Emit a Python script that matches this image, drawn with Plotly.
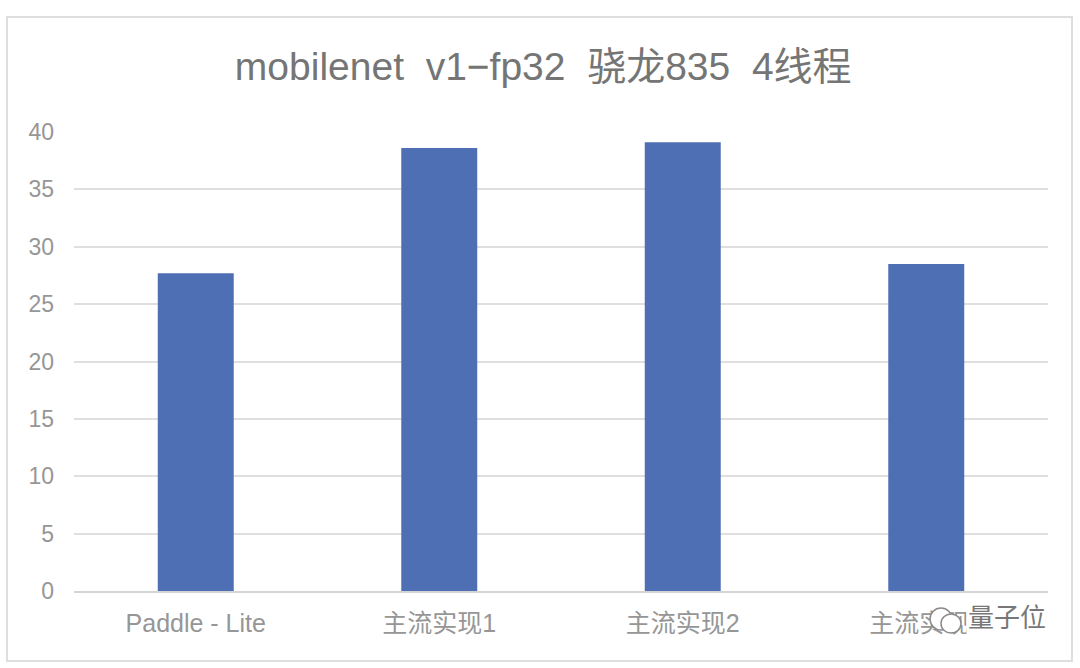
import plotly.graph_objects as go

categories = ["Paddle - Lite", "主流实现1", "主流实现2", "主流实现3"]
values = [27.7, 38.6, 39.1, 28.5]
y_ticks = [0, 5, 10, 15, 20, 25, 30, 35, 40]

font = "Liberation Sans, Noto Sans CJK SC, sans-serif"
tick_color = "#969696"

fig = go.Figure()
fig.add_trace(go.Bar(x=categories, y=values, marker_color="#4F6FB5", marker_line_width=0))

fig.update_layout(
    width=1080,
    height=668,
    margin=dict(l=74, r=32, t=132, b=77),
    paper_bgcolor="white",
    plot_bgcolor="white",
    bargap=0.688,
    showlegend=False,
    font=dict(family=font, color=tick_color),
    title=dict(
        text="mobilenet  v1−fp32  骁龙835  4线程",
        font=dict(size=39, color="#757575", family=font),
        x=0.503,
        xanchor="center",
        y=0.901,
        yanchor="middle",
    ),
)
fig.update_xaxes(
    showgrid=False,
    showline=True,
    linecolor="#d4d4d4",
    linewidth=2,
    ticks="",
    ticklabelstandoff=9,
    tickfont=dict(size=25, color=tick_color),
)
fig.update_yaxes(
    range=[0, 40],
    tickvals=y_ticks,
    showgrid=True,
    gridcolor="#dfdfdf",
    gridwidth=2,
    zeroline=False,
    ticks="",
    ticklen=0,
    ticklabelstandoff=19,
    tickfont=dict(size=23, color=tick_color),
)


# pixel position on the page -> paper coordinates of the plot area
def px(x):
    return (x - 74) / 974


def py(y):
    return (591 - y) / 459


# outer frame of the screenshot
fig.add_shape(type="rect", xref="paper", yref="paper", x0=px(7), x1=px(1072), y0=py(661), y1=py(17),
              line=dict(color="#dedede", width=2), layer="below")

# watermark over the last label: two chat bubbles and the name
fig.add_shape(type="circle", xref="paper", yref="paper", x0=px(930), x1=px(952), y0=py(630), y1=py(608),
              fillcolor="white", line=dict(color="#8a8a8a", width=1.5))
fig.add_shape(type="circle", xref="paper", yref="paper", x0=px(941), x1=px(961), y0=py(633), y1=py(614),
              fillcolor="white", line=dict(color="#8a8a8a", width=1.5))
fig.add_annotation(text="量子位", xref="paper", yref="paper", x=px(1048), y=py(618), xanchor="right", yanchor="middle",
                   showarrow=False, bgcolor="white", font=dict(size=26, color="#777777", family=font))

# the page has a default body margin, drop it so the figure sits at the corner
fig.write_html("out.html", config=dict(displayModeBar=False), post_script="document.body.style.margin = '0';")
